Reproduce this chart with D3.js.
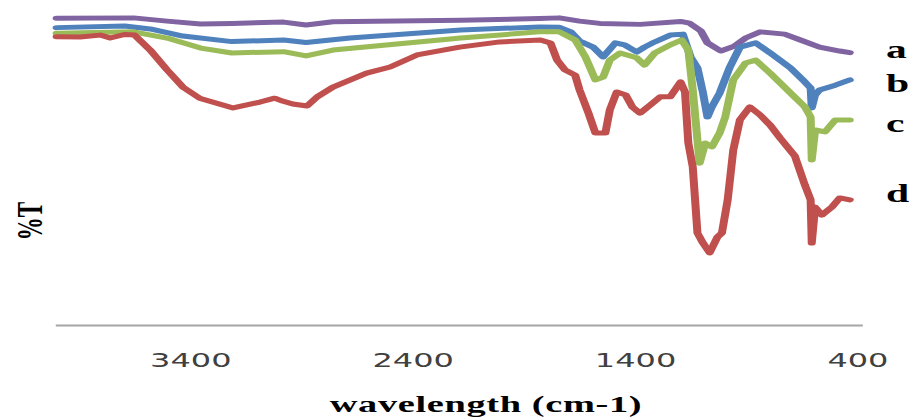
<!DOCTYPE html>
<html>
<head>
<meta charset="utf-8">
<script src="https://cdn.jsdelivr.net/npm/d3@7"></script>
<style>
  body { margin: 0; background: #fff; }
  svg { display: block; }
</style>
</head>
<body>
<div id="chart-area"></div>
<script>
// [wavenumber, %T]
const seriesA = [
  [4000, 94.4], [3654, 94.5], [3503, 93.5], [3352, 92.6], [3211, 92.8], [2979, 93.2],
  [2878, 92.3], [2757, 93.3], [2182, 93.8], [1829, 94.3], [1739, 94.5], [1648, 93.5],
  [1557, 92.8], [1376, 92.5], [1194, 93.4], [1154, 92.9], [1103, 90.5], [1073, 86.8],
  [1013, 84.3], [952, 85.8], [902, 88.3], [836, 90.2], [726, 89.5], [655, 87.7],
  [569, 85.5], [478, 84.3], [433, 83.8]
];

const seriesB = [
  [4000, 91.5], [3694, 92.0], [3579, 91.1], [3432, 88.9], [3211, 87.2], [2979, 87.7],
  [2878, 86.9], [2681, 88.3], [2182, 90.8], [1829, 91.7], [1739, 91.6], [1688, 90.2],
  [1648, 87.4], [1587, 85.5], [1542, 82.5], [1487, 86.8], [1446, 86.2], [1391, 84.0],
  [1356, 85.5], [1310, 87.1], [1240, 89.2], [1184, 89.5], [1149, 82.5], [1118, 79.1],
  [1093, 71.4], [1073, 64.0], [1053, 67.1], [1018, 71.4], [972, 79.4], [927, 85.5],
  [856, 86.8], [791, 83.7], [700, 79.1], [635, 74.8], [609, 72.9], [604, 66.8],
  [589, 70.8], [569, 72.3], [498, 73.8], [433, 75.4]
];

const seriesC = [
  [4000, 89.8], [3654, 90.2], [3503, 88.3], [3352, 85.2], [3211, 83.7], [2979, 84.1],
  [2878, 82.8], [2757, 84.6], [2182, 88.3], [1829, 90.2], [1739, 90.2], [1668, 87.7],
  [1622, 82.5], [1577, 75.4], [1542, 76.3], [1512, 81.5], [1466, 83.7], [1391, 82.2],
  [1356, 80.0], [1310, 83.7], [1240, 86.2], [1189, 87.7], [1159, 84.6], [1139, 72.3],
  [1118, 56.9], [1108, 49.8], [1083, 56.0], [1053, 54.8], [1018, 59.1], [993, 64.0],
  [957, 75.4], [902, 80.6], [856, 81.5], [791, 77.5], [700, 71.4], [635, 67.1],
  [609, 64.0], [604, 50.8], [589, 60.0], [544, 59.4], [498, 63.1], [433, 63.1]
];

const seriesD = [
  [4000, 88.7], [3894, 88.6], [3804, 89.2], [3759, 88.3], [3694, 89.4], [3649, 89.2],
  [3579, 84.6], [3503, 78.5], [3432, 73.2], [3357, 69.8], [3206, 66.8], [3085, 68.6],
  [3019, 69.8], [2984, 68.9], [2938, 68.0], [2873, 67.4], [2828, 70.2], [2757, 73.2],
  [2606, 77.5], [2500, 79.4], [2379, 83.1], [2187, 85.5], [2006, 87.1], [1824, 87.7],
  [1779, 86.8], [1749, 81.5], [1714, 78.5], [1668, 76.9], [1648, 72.3], [1608, 65.2],
  [1577, 59.1], [1532, 59.1], [1512, 66.2], [1481, 71.7], [1441, 70.8], [1411, 67.1],
  [1376, 65.2], [1330, 67.7], [1285, 70.2], [1240, 70.2], [1194, 74.8], [1174, 71.7],
  [1159, 56.0], [1139, 48.6], [1118, 28.3], [1093, 25.2], [1063, 22.2], [1028, 27.1],
  [1008, 28.3], [982, 38.5], [957, 53.8], [927, 63.1], [882, 67.1], [836, 64.6],
  [791, 61.5], [746, 57.5], [680, 52.0], [635, 43.1], [609, 38.5], [604, 25.2],
  [589, 36.3], [559, 33.8], [513, 36.3], [478, 39.1], [433, 38.5]
];

const seriesNames = ["a", "b", "c", "d"];
const seriesColors = ["#8064a2", "#4f81bd", "#9bbb59", "#c0504d"];
const xTicks = [3400, 2400, 1400, 400];
const axisLimits = [4007, 378];

const chartWidth = 914;
const chartHeight = 417;
// the original picture is stretched sideways, so everything is drawn in a squeezed frame
const stretch = 1.6;
const margin = { top: 0, left: 55, right: 52, bottom: 92 };

const plotHeight = chartHeight - margin.top - margin.bottom;

const svg = d3.select("#chart-area")
              .append("svg")
              .attr("width", chartWidth)
              .attr("height", chartHeight);

const root = svg.append("g")
                .attr("transform", "scale(" + stretch + ",1)");

const waveScale = d3.scaleLinear()
                    .domain(axisLimits)
                    .range([margin.left / stretch, (chartWidth - margin.right) / stretch]);

const transScale = d3.scaleLinear()
                     .domain([0, 100])
                     .range([plotHeight, margin.top]);

// x axis: plain grey line with labels, no tick marks
const axisX = d3.axisBottom()
                .scale(waveScale)
                .tickValues(xTicks)
                .tickSize(0)
                .tickPadding(28)
                .tickFormat(d3.format("d"));

const xAxis = root.append("g")
                  .attr("id", "x-axis")
                  .attr("transform", "translate(0, " + plotHeight + ")")
                  .call(axisX);

xAxis.select(".domain")
     .attr("stroke", "#a6a6a6")
     .attr("stroke-width", 2);

xAxis.selectAll("text")
     .attr("fill", "#404040")
     .style("font-family", "'DejaVu Sans', Verdana, sans-serif")
     .style("font-size", "20px");

const line = d3.line()
               .x(d => waveScale(d[0]))
               .y(d => transScale(d[1]));

const allSeries = [seriesA, seriesB, seriesC, seriesD];

root.selectAll("path.spectrum")
    .data(allSeries)
    .enter()
    .append("path")
    .attr("class", "spectrum")
    .attr("d", d => line(d))
    .attr("fill", "none")
    .attr("stroke", (d, i) => seriesColors[i])
    .attr("stroke-width", 5)
    .attr("stroke-linejoin", "round")
    .attr("stroke-linecap", "round");

// series letters on the right
const labelY = [58, 92, 132, 202];

root.selectAll("text.series-label")
    .data(seriesNames)
    .enter()
    .append("text")
    .attr("class", "series-label")
    .attr("x", 886 / stretch)
    .attr("y", (d, i) => labelY[i])
    .attr("fill", "#000")
    .style("font-family", "'Liberation Serif', 'Times New Roman', serif")
    .style("font-weight", "bold")
    .style("font-size", "26px")
    .text(d => d);

root.append("text")
    .attr("text-anchor", "middle")
    .attr("x", 486 / stretch)
    .attr("y", 412)
    .attr("fill", "#000")
    .style("font-family", "'Liberation Serif', 'Times New Roman', serif")
    .style("font-weight", "bold")
    .style("font-size", "24px")
    .style("letter-spacing", "0.4px")
    .text("wavelength (cm-1)");

const yLabelX = 42 / stretch;
root.append("text")
    .attr("text-anchor", "middle")
    .attr("x", yLabelX)
    .attr("y", 221)
    .attr("transform", `rotate(-90 ${yLabelX},221)`)
    .attr("fill", "#000")
    .style("font-family", "'Liberation Serif', 'Times New Roman', serif")
    .style("font-weight", "bold")
    .style("font-size", "23px")
    .text("%T");
</script>
</body>
</html>
